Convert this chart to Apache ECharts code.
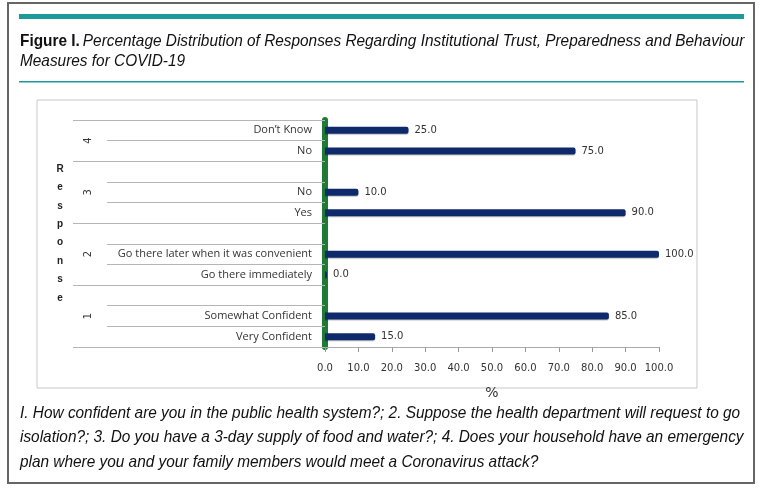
<!DOCTYPE html>
<html>
<head>
<meta charset="utf-8">
<script src="https://cdn.jsdelivr.net/npm/echarts@6/dist/echarts.min.js"></script>
<style>
  html, body { margin: 0; padding: 0; background: #fff; }
  #chart { width: 768px; height: 488px; }
</style>
</head>
<body>
<div id="chart"></div>
<script>
// rows from the bottom up; '' is the spacer row between question groups
const categories = ['Very Confident', 'Somewhat Confident', '', 'Go there immediately',
  'Go there later when it was convenient', '', 'Yes', 'No', '', 'No', 'Don\u2019t Know']
const values = [15, 85, null, 0, 100, null, 90, 10, null, 75, 25]

// question groups (row units, bottom up)
const groupLabels = ['1', '2', '3', '4']
const groupCenters = [1.5, 4.5, 7.5, 10]
const groupStarts = [0, 3, 6, 9]

const xMin = 0
const xMax = 100
const xStep = 10

const titleLines = [
  'Percentage Distribution of Responses Regarding Institutional Trust, Preparedness and Behaviour',
  'Measures for COVID-19'
]
const captionText = [
  'I. How confident are you in the public health system?; 2. Suppose the health department will request to go',
  'isolation?; 3. Do you have a 3-day supply of food and water?; 4. Does your household have an emergency',
  'plan where you and your family members would meet a Coronavirus attack?'
]

const chart = echarts.init(document.getElementById('chart'), null, { renderer: 'canvas' })

const teal = '#1c9a9b'
const txt = '#333'
const sans = 'DejaVu Sans'
const squeeze = 0.905  // the print font is narrower than anything installed

const option = {
  backgroundColor: '#fff',
  animation: false,
  graphic: [
    // page frame and rules
    { type: 'rect', shape: { x: 8, y: 3, width: 746, height: 480 }, style: { fill: 'none', stroke: '#666', lineWidth: 2 }, silent: true },
    { type: 'rect', shape: { x: 19, y: 14, width: 725, height: 5 }, style: { fill: teal }, silent: true },
    { type: 'rect', shape: { x: 19, y: 81, width: 725, height: 1.5 }, style: { fill: teal }, silent: true },
    // chart box
    { type: 'rect', shape: { x: 37, y: 100, width: 660, height: 288 }, style: { fill: 'none', stroke: '#c8c8c8', lineWidth: 1 }, silent: true, z: -1 },
    {
      type: 'text', x: 20, y: 31, scaleX: squeeze, silent: true,
      style: {
        text: '{b|Figure I.} {i|' + titleLines[0] + '}\n{i|' + titleLines[1] + '}',
        lineHeight: 20.5,
        rich: {
          b: { fontFamily: 'Liberation Sans', fontWeight: 'bold', fontSize: 17, fill: '#111', lineHeight: 20.5 },
          i: { fontFamily: 'Liberation Sans', fontStyle: 'italic', fontSize: 17, fill: '#111', lineHeight: 20.5 }
        }
      }
    },
    {
      type: 'text', x: 20, y: 401, scaleX: squeeze, silent: true,
      style: {
        text: captionText.join('\n'),
        font: 'italic 17px "Liberation Sans"',
        fill: '#111',
        lineHeight: 24.5
      }
    }
  ],
  grid: {
    left: 325,
    right: 109,
    top: 120,
    bottom: 141,
    containLabel: false
  },
  xAxis: {
    type: 'value',
    min: xMin,
    max: xMax,
    interval: xStep,
    axisLine: { show: true, lineStyle: { color: '#aaa', width: 1 } },
    axisTick: { show: true, length: 5, lineStyle: { color: '#999' } },
    splitLine: { show: false },
    axisLabel: {
      margin: 16,
      color: txt,
      fontFamily: sans,
      fontSize: 10,
      formatter: v => v.toFixed(1)
    },
    name: '%',
    nameLocation: 'middle',
    nameGap: 39,
    nameTextStyle: { color: txt, fontFamily: sans, fontSize: 14 }
  },
  yAxis: [
    {
      // row labels + short separators
      type: 'category',
      data: categories,
      axisLine: { show: true, lineStyle: { color: '#1f7a36', width: 6 } },
      axisTick: { show: true, length: 218, interval: 0, lineStyle: { color: '#b5b5b5' } },
      axisLabel: {
        margin: 13,
        color: txt,
        fontFamily: 'Open Sans',
        fontSize: 11
      },
      splitLine: { show: false }
    },
    {
      // longer separators between question groups
      type: 'category',
      data: categories,
      position: 'left',
      axisLine: { show: false },
      axisLabel: { show: false },
      axisTick: {
        show: true,
        length: 252,
        interval: (index) => groupStarts.includes(index),
        lineStyle: { color: '#b5b5b5' }
      },
      splitLine: { show: false }
    },
    {
      // group numbers and the vertical axis title
      type: 'value',
      position: 'left',
      offset: 223,
      min: 0,
      max: categories.length,
      interval: 0.5,
      axisLine: { show: false },
      axisTick: { show: false },
      splitLine: { show: false },
      axisLabel: {
        rotate: 90,
        margin: 9,
        color: txt,
        fontFamily: sans,
        fontSize: 10,
        formatter: v => {
          const i = groupCenters.indexOf(v)
          return i >= 0 ? groupLabels[i] : ''
        }
      },
      name: 'Response'.split('').join('\n'),
      nameLocation: 'middle',
      nameRotate: 0,
      nameGap: 42,
      nameTextStyle: {
        align: 'center',
        verticalAlign: 'middle',
        color: '#222',
        fontFamily: 'Liberation Sans',
        fontWeight: 'bold',
        fontSize: 10,
        lineHeight: 18.4
      }
    }
  ],
  series: [
    {
      type: 'bar',
      yAxisIndex: 0,
      data: values,
      barWidth: 7,
      barMinHeight: 2,
      itemStyle: {
        color: '#0f2a6b',
        borderRadius: [0, 2, 2, 0],
        shadowColor: 'rgba(0,0,0,0.25)',
        shadowOffsetY: 1,
        shadowBlur: 1
      },
      label: {
        show: true,
        position: 'right',
        distance: 6,
        color: txt,
        fontFamily: sans,
        fontSize: 10,
        formatter: p => (p.value == null ? '' : p.value.toFixed(1))
      }
    }
  ]
}

chart.setOption(option)
</script>
</body>
</html>
